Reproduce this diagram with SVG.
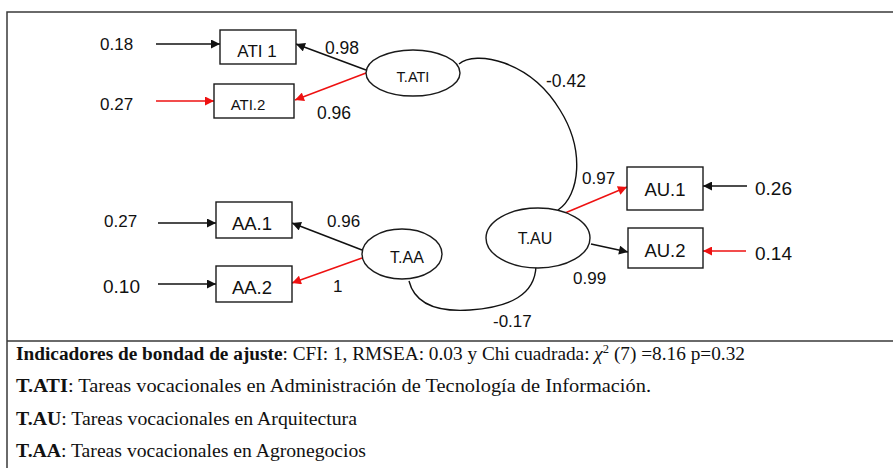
<svg xmlns="http://www.w3.org/2000/svg" width="893" height="468" viewBox="0 0 893 468">
<defs>
<style>
.frame{stroke:#3a3a3a;stroke-width:1.5;fill:none}
.box{fill:#fff;stroke:#1a1a1a;stroke-width:1.4}
.lat{fill:#fff;stroke:#1a1a1a;stroke-width:1.4}
.lbl{font-family:"Liberation Sans",Arial,sans-serif;fill:#111}
.k{stroke:#111;stroke-width:1.5;fill:none}
.r{stroke:#ee1111;stroke-width:1.5;fill:none}
.cv{stroke:#111;stroke-width:1.4;fill:none}
.ft{font-family:"Liberation Serif","Times New Roman",serif;font-size:18.5px;fill:#111}
.b{font-weight:bold}
</style>
<marker id="ak" viewBox="0 0 10 10" refX="10" refY="5" markerWidth="10" markerHeight="9" markerUnits="userSpaceOnUse" orient="auto"><path d="M0,0L10,5L0,10z" fill="#111"/></marker>
<marker id="ar" viewBox="0 0 10 10" refX="10" refY="5" markerWidth="10" markerHeight="9" markerUnits="userSpaceOnUse" orient="auto"><path d="M0,0L10,5L0,10z" fill="#ee1111"/></marker>
</defs>
<rect width="893" height="468" fill="#fff"/>
<g id="frame">
<path class="frame" d="M7,468V12H893M7,341H893"/>
</g>
<g id="connectors">
<line class="k" x1="156" y1="44" x2="220" y2="44" marker-end="url(#ak)"/>
<line class="r" x1="156" y1="101" x2="214" y2="101" marker-end="url(#ar)"/>
<line class="k" x1="366" y1="70" x2="296" y2="44" marker-end="url(#ak)"/>
<line class="r" x1="366" y1="73" x2="295" y2="100" marker-end="url(#ar)"/>
<line class="k" x1="158" y1="223" x2="216" y2="223" marker-end="url(#ak)"/>
<line class="k" x1="158" y1="284" x2="216" y2="284" marker-end="url(#ak)"/>
<line class="k" x1="362" y1="250" x2="292" y2="223" marker-end="url(#ak)"/>
<line class="r" x1="362" y1="258" x2="292" y2="283" marker-end="url(#ar)"/>
<line class="r" x1="565" y1="213" x2="627" y2="187" marker-end="url(#ar)"/>
<line class="k" x1="591" y1="244" x2="628" y2="252" marker-end="url(#ak)"/>
<line class="k" x1="747" y1="186" x2="703" y2="186" marker-end="url(#ak)"/>
<line class="r" x1="746" y1="251" x2="703" y2="251" marker-end="url(#ar)"/>
<path class="cv" d="M459,64C475,50 530,60 560,110C585,150 580,195 558,210"/>
<path class="cv" d="M409,281C415,305 440,312 470,310C510,307 535,295 536,266"/>
</g>
<g id="ATI1"><rect class="box" x="220" y="30" width="76" height="34"/><text class="lbl" x="257" y="57" font-size="17" text-anchor="middle">ATI 1</text></g>
<g id="ATI2"><rect class="box" x="214" y="84" width="80" height="34"/><text class="lbl" x="248" y="110" font-size="15" text-anchor="middle">ATI.2</text></g>
<g id="TATI"><ellipse class="lat" cx="413" cy="73" rx="47" ry="23"/><text class="lbl" x="413" y="82" font-size="14.5" text-anchor="middle">T.ATI</text></g>
<g id="AA1"><rect class="box" x="216" y="202" width="76" height="36"/><text class="lbl" x="252" y="230" font-size="18.5" text-anchor="middle">AA.1</text></g>
<g id="AA2"><rect class="box" x="216" y="266" width="76" height="36"/><text class="lbl" x="252" y="294" font-size="18.5" text-anchor="middle">AA.2</text></g>
<g id="TAA"><ellipse class="lat" cx="402" cy="254" rx="40" ry="25"/><text class="lbl" x="407" y="263" font-size="16" text-anchor="middle">T.AA</text></g>
<g id="TAU"><ellipse class="lat" cx="538" cy="238" rx="52" ry="30"/><text class="lbl" x="535" y="244" font-size="16" text-anchor="middle">T.AU</text></g>
<g id="AU1"><rect class="box" x="627" y="167" width="76" height="43"/><text class="lbl" x="665" y="196" font-size="18.5" text-anchor="middle">AU.1</text></g>
<g id="AU2"><rect class="box" x="628" y="228" width="75" height="40"/><text class="lbl" x="665" y="257" font-size="18.5" text-anchor="middle">AU.2</text></g>
<g id="labels" class="lbl">
<text x="100" y="50" font-size="17">0.18</text>
<text x="100" y="110" font-size="17">0.27</text>
<text x="325" y="54" font-size="17.5">0.98</text>
<text x="317" y="119" font-size="17.5">0.96</text>
<text x="104" y="227" font-size="17">0.27</text>
<text x="103" y="293" font-size="19">0.10</text>
<text x="327" y="227" font-size="17">0.96</text>
<text x="333" y="292" font-size="17">1</text>
<text x="546" y="87" font-size="17.5">-0.42</text>
<text x="582" y="184" font-size="17">0.97</text>
<text x="573" y="284" font-size="17">0.99</text>
<text x="493" y="327" font-size="17">-0.17</text>
<text x="755" y="195" font-size="19">0.26</text>
<text x="755" y="260" font-size="19">0.14</text>
</g>
<g id="notes">
<text class="ft" x="16" y="360" textLength="729" lengthAdjust="spacingAndGlyphs"><tspan class="b">Indicadores de bondad de ajuste</tspan>: CFI: 1, RMSEA: 0.03 y Chi cuadrada: <tspan font-style="italic">χ</tspan><tspan font-size="12" dy="-7">2</tspan><tspan dy="7"> (7) =8.16 p=0.32</tspan></text>
<text class="ft" x="16" y="392" textLength="635" lengthAdjust="spacingAndGlyphs"><tspan class="b">T.ATI</tspan>: Tareas vocacionales en Administración de Tecnología de Información.</text>
<text class="ft" x="16" y="425" textLength="341" lengthAdjust="spacingAndGlyphs"><tspan class="b">T.AU</tspan>: Tareas vocacionales en Arquitectura</text>
<text class="ft" x="16" y="457" textLength="350" lengthAdjust="spacingAndGlyphs"><tspan class="b">T.AA</tspan>: Tareas vocacionales en Agronegocios</text>
</g>
</svg>
